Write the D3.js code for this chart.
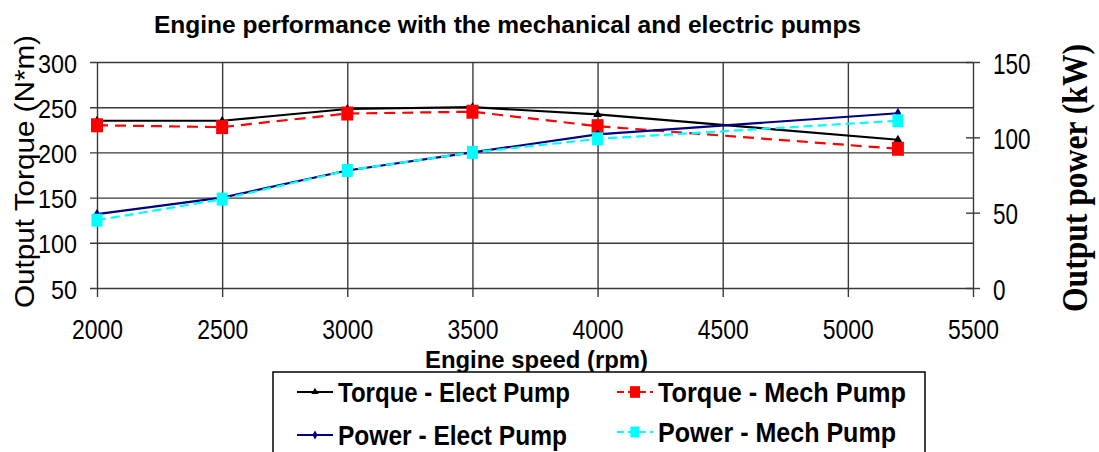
<!DOCTYPE html>
<html>
<head>
<meta charset="utf-8">
<script src="https://cdn.jsdelivr.net/npm/d3@7"></script>
<style>
  body { margin: 0; background: #fff; }
  svg { display: block; }
</style>
</head>
<body>
<svg width="1099" height="452"></svg>
<script>
// values
var rpm = [2000, 2500, 3000, 3500, 4000, 5200];
var torqueElect = [235, 235, 248, 250, 242, 214];
var torqueMech = [230, 228, 243, 245, 229, 204];
var powerElect = [49, 60, 78, 90, 102, 116];
var powerMech = [45, 59, 78, 90, 99, 111];

var xTicks = [2000, 2500, 3000, 3500, 4000, 4500, 5000, 5500];
var leftTicks = [50, 100, 150, 200, 250, 300];
var rightTicks = [0, 50, 100, 150];

var svg = d3.select("svg");
var sans = "'Liberation Sans', Arial, sans-serif";
var serif = "'Liberation Serif', 'Times New Roman', serif";
var gridColor = "#3a3a3a";

var x = d3.scaleLinear().domain([2000, 5500]).range([97, 973]);
var yL = d3.scaleLinear().domain([50, 300]).range([288, 62]);
var yR = d3.scaleLinear().domain([0, 150]).range([288, 62]);

// horizontal grid + left ticks
var gl = svg.append("g")
    .attr("transform", "translate(90,0)")
    .call(d3.axisLeft(yL).tickValues(leftTicks).tickFormat(d3.format("d"))
        .tickSizeInner(-(973 - 90)).tickSizeOuter(0).tickPadding(13));
gl.select(".domain").remove();
gl.selectAll(".tick line").attr("stroke", gridColor).attr("stroke-width", 1.4);
gl.selectAll(".tick text")
    .attr("dy", 0).attr("y", 10)
    .attr("font-family", sans).attr("font-size", 26.5).attr("fill", "#000")
    .attr("textLength", function(d) { return String(d).length * 13; })
    .attr("lengthAdjust", "spacingAndGlyphs");

// vertical grid + bottom labels
var gb = svg.append("g")
    .attr("transform", "translate(0,62)")
    .call(d3.axisBottom(x).tickValues(xTicks).tickFormat(d3.format("d"))
        .tickSizeInner(235).tickSizeOuter(0));
gb.select(".domain").remove();
gb.selectAll(".tick line").attr("stroke", gridColor).attr("stroke-width", 1.4);
gb.selectAll(".tick text")
    .attr("dy", 0).attr("y", 277)
    .attr("font-family", sans).attr("font-size", 27).attr("fill", "#000")
    .attr("textLength", 51).attr("lengthAdjust", "spacingAndGlyphs");

// right axis
var gr = svg.append("g")
    .attr("transform", "translate(966,0)")
    .call(d3.axisRight(yR).tickValues(rightTicks).tickFormat(d3.format("d"))
        .tickSizeInner(14).tickSizeOuter(0).tickPadding(13));
gr.select(".domain").remove();
gr.selectAll(".tick line").attr("stroke", gridColor).attr("stroke-width", 1.4);
gr.selectAll(".tick text")
    .attr("dy", 0).attr("y", 11)
    .attr("font-family", sans).attr("font-size", 29).attr("fill", "#000")
    .attr("textLength", function(d) { return String(d).length * 12.5; })
    .attr("lengthAdjust", "spacingAndGlyphs");

// series
var series = [
  {name: "Torque - Elect Pump", vals: torqueElect, y: yL, color: "#000000", dash: null, mark: "tri"},
  {name: "Torque - Mech Pump", vals: torqueMech, y: yL, color: "#ff0000", dash: "11,7", mark: "bigsq"},
  {name: "Power - Elect Pump", vals: powerElect, y: yR, color: "#000080", dash: null, mark: "dia"},
  {name: "Power - Mech Pump", vals: powerMech, y: yR, color: "#00ffff", dash: "9,5", mark: "sq"}
];

function drawMark(g, s, px, py, k) {
  k = k || 1;
  if (s.mark == "tri") {
    g.append("path").attr("d", d3.symbol(d3.symbolTriangle, 32 * k)())
      .attr("transform", "translate(" + px + "," + py + ")").attr("fill", s.color);
  } else if (s.mark == "dia") {
    g.append("path").attr("d", d3.symbol(d3.symbolDiamond, 34 * k)())
      .attr("transform", "translate(" + px + "," + py + ")").attr("fill", s.color);
  } else {
    var w = s.mark == "bigsq" ? 12 : 11, h = s.mark == "bigsq" ? 14 : 13;
    w *= Math.sqrt(k); h *= Math.sqrt(k);
    g.append("rect").attr("x", px - w / 2).attr("y", py - h / 2)
      .attr("width", w).attr("height", h).attr("fill", s.color);
  }
}

series.forEach(function(s) {
  var pts = rpm.map(function(r, i) { return [x(r), s.y(s.vals[i])]; });
  var g = svg.append("g");
  g.append("path")
    .attr("d", d3.line()(pts))
    .attr("fill", "none")
    .attr("stroke", s.color)
    .attr("stroke-width", 2.2)
    .attr("stroke-dasharray", s.dash);
  pts.forEach(function(p) { drawMark(g, s, p[0], p[1]); });
});

// title and axis titles
svg.append("text")
  .attr("x", 154).attr("y", 33)
  .attr("font-family", sans).attr("font-weight", "bold").attr("font-size", 24)
  .attr("textLength", 707).attr("lengthAdjust", "spacingAndGlyphs")
  .text("Engine performance with the mechanical and electric pumps");

svg.append("text")
  .attr("x", 425).attr("y", 368)
  .attr("font-family", sans).attr("font-weight", "bold").attr("font-size", 24)
  .attr("textLength", 223).attr("lengthAdjust", "spacingAndGlyphs")
  .text("Engine speed (rpm)");

svg.append("text")
  .attr("transform", "translate(34,308) rotate(-90)")
  .attr("font-family", sans).attr("font-size", 28)
  .attr("textLength", 273).attr("lengthAdjust", "spacingAndGlyphs")
  .text("Output Torque (N*m)");

svg.append("text")
  .attr("transform", "translate(1087,312) rotate(-90)")
  .attr("font-family", serif).attr("font-weight", "bold").attr("font-size", 35)
  .attr("textLength", 268).attr("lengthAdjust", "spacingAndGlyphs")
  .text("Output power (kW)");

// legend
svg.append("rect")
  .attr("x", 273).attr("y", 372).attr("width", 652).attr("height", 100)
  .attr("fill", "#fff").attr("stroke", "#000").attr("stroke-width", 1.5);

var legendPos = [
  {x: 297, y: 392, tw: 232},
  {x: 617, y: 392, tw: 248},
  {x: 297, y: 435, tw: 229},
  {x: 617, y: 432, tw: 238}
];
series.forEach(function(s, i) {
  var p = legendPos[i];
  var g = svg.append("g");
  g.append("line")
    .attr("x1", p.x).attr("x2", p.x + 36).attr("y1", p.y).attr("y2", p.y)
    .attr("stroke", s.color).attr("stroke-width", 2.2)
    .attr("stroke-dasharray", s.dash ? "7,4" : null);
  drawMark(g, s, p.x + 18, p.y, 0.7);
  g.append("text")
    .attr("x", p.x + 41).attr("y", p.y + 10)
    .attr("font-family", sans).attr("font-weight", "bold").attr("font-size", 28)
    .attr("textLength", p.tw).attr("lengthAdjust", "spacingAndGlyphs")
    .text(s.name);
});
</script>
</body>
</html>
